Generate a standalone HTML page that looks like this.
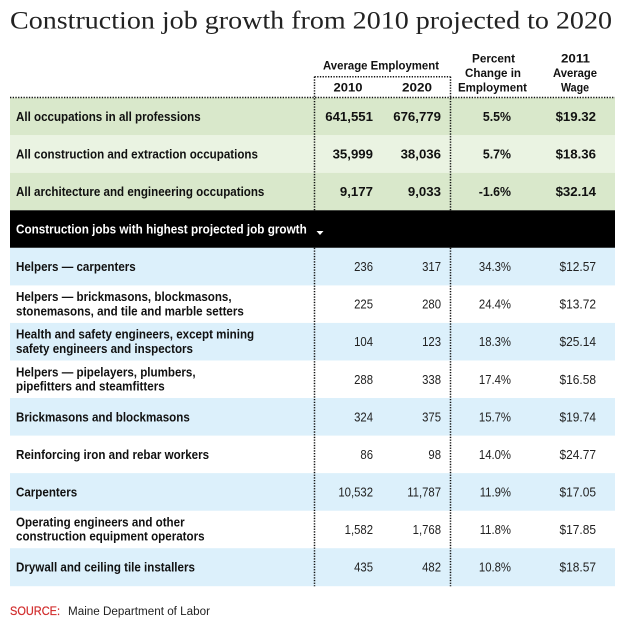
<!DOCTYPE html>
<html>
<head>
<meta charset="utf-8">
<style>
html,body{margin:0;padding:0;background:#fff;}
svg{display:block;}
.lb{font-family:"Liberation Sans",Arial,sans-serif;font-weight:bold;font-size:12.6px;fill:#111;}
.nb{font-family:"Liberation Sans",Arial,sans-serif;font-weight:bold;font-size:12.6px;fill:#111;text-anchor:end;}
.nr{font-family:"Liberation Sans",Arial,sans-serif;font-weight:normal;font-size:12.6px;fill:#222;text-anchor:end;}
.hd{font-family:"Liberation Sans",Arial,sans-serif;font-weight:bold;font-size:11.6px;fill:#111;text-anchor:middle;}
</style>
</head>
<body>
<svg width="624" height="624" viewBox="0 0 624 624" xmlns="http://www.w3.org/2000/svg">
<rect width="624" height="624" fill="#fff"/>
<!-- Title -->
<text x="10" y="28.5" font-family="Liberation Serif, serif" font-size="25" fill="#222" textLength="602" lengthAdjust="spacingAndGlyphs">Construction job growth from 2010 projected to 2020</text>

<!-- Header -->
<text class="hd" x="381" y="69.3" textLength="116" lengthAdjust="spacingAndGlyphs">Average Employment</text>
<text class="hd" x="348" y="91.7" textLength="29" lengthAdjust="spacingAndGlyphs">2010</text>
<text class="hd" x="417" y="91.7" textLength="30" lengthAdjust="spacingAndGlyphs">2020</text>
<text class="hd" x="493.5" y="62.7" textLength="43" lengthAdjust="spacingAndGlyphs">Percent</text>
<text class="hd" x="493" y="77.2" textLength="56" lengthAdjust="spacingAndGlyphs">Change in</text>
<text class="hd" x="492.5" y="91.7" textLength="69" lengthAdjust="spacingAndGlyphs">Employment</text>
<text class="hd" x="575.5" y="62.7" textLength="29" lengthAdjust="spacingAndGlyphs">2011</text>
<text class="hd" x="575" y="77.2" textLength="44" lengthAdjust="spacingAndGlyphs">Average</text>
<text class="hd" x="575" y="91.7" textLength="28" lengthAdjust="spacingAndGlyphs">Wage</text>

<!-- Row backgrounds -->
<rect x="10" y="97.7" width="605" height="37.6" fill="#d9e8cb"/>
<rect x="10" y="135.2" width="605" height="37.6" fill="#eaf3e2"/>
<rect x="10" y="172.8" width="605" height="37.6" fill="#d9e8cb"/>
<rect x="10" y="210.3" width="605" height="37.6" fill="#000"/>
<rect x="10" y="247.8" width="605" height="37.6" fill="#dcf0fb"/>
<rect x="10" y="322.9" width="605" height="37.6" fill="#dcf0fb"/>
<rect x="10" y="398.0" width="605" height="37.6" fill="#dcf0fb"/>
<rect x="10" y="473.1" width="605" height="37.6" fill="#dcf0fb"/>
<rect x="10" y="548.2" width="605" height="38.0" fill="#dcf0fb"/>

<!-- Dotted lines -->
<g stroke="#111" stroke-width="1.5" stroke-dasharray="1.3 1.4" fill="none">
<line x1="10" y1="97.5" x2="615" y2="97.5"/>
<line x1="314.5" y1="76.7" x2="450.5" y2="76.7"/>
<line x1="314.5" y1="76.7" x2="314.5" y2="210.3"/>
<line x1="450.5" y1="76.7" x2="450.5" y2="210.3"/>
<line x1="314.5" y1="247.8" x2="314.5" y2="586.2"/>
<line x1="450.5" y1="247.8" x2="450.5" y2="586.2"/>
</g>

<!-- Green rows -->
<text class="lb" transform="translate(16,121) scale(0.92,1)">All occupations in all professions</text>
<text class="nb" transform="translate(373,121) scale(1.05,1)">641,551</text>
<text class="nb" transform="translate(441,121) scale(1.05,1)">676,779</text>
<text class="nb" transform="translate(511,121) scale(0.98,1)">5.5%</text>
<text class="nb" transform="translate(596,121) scale(1.05,1)">$19.32</text>

<text class="lb" transform="translate(16,158.5) scale(0.92,1)">All construction and extraction occupations</text>
<text class="nb" transform="translate(373,158.5) scale(1.05,1)">35,999</text>
<text class="nb" transform="translate(441,158.5) scale(1.05,1)">38,036</text>
<text class="nb" transform="translate(511,158.5) scale(0.98,1)">5.7%</text>
<text class="nb" transform="translate(596,158.5) scale(1.05,1)">$18.36</text>

<text class="lb" transform="translate(16,196.1) scale(0.92,1)">All architecture and engineering occupations</text>
<text class="nb" transform="translate(373,196.1) scale(1.05,1)">9,177</text>
<text class="nb" transform="translate(441,196.1) scale(1.05,1)">9,033</text>
<text class="nb" transform="translate(511,196.1) scale(0.98,1)">-1.6%</text>
<text class="nb" transform="translate(596,196.1) scale(1.05,1)">$32.14</text>

<!-- Black row -->
<text class="lb" style="fill:#fff" transform="translate(16,233.6) scale(0.93,1)">Construction jobs with highest projected job growth</text>
<polygon points="316.5,231 323.5,231 320,235" fill="#fff"/>

<!-- Job rows -->
<text class="lb" transform="translate(16,271.1) scale(0.92,1)">Helpers — carpenters</text>
<text class="nr" transform="translate(373,271.1) scale(0.9,1)">236</text>
<text class="nr" transform="translate(441,271.1) scale(0.9,1)">317</text>
<text class="nr" transform="translate(511,271.1) scale(0.9,1)">34.3%</text>
<text class="nr" transform="translate(596,271.1) scale(0.95,1)">$12.57</text>

<text class="lb" transform="translate(16,301.2) scale(0.92,1)">Helpers — brickmasons, blockmasons,</text>
<text class="lb" transform="translate(16,315.5) scale(0.92,1)">stonemasons, and tile and marble setters</text>
<text class="nr" transform="translate(373,308.7) scale(0.9,1)">225</text>
<text class="nr" transform="translate(441,308.7) scale(0.9,1)">280</text>
<text class="nr" transform="translate(511,308.7) scale(0.9,1)">24.4%</text>
<text class="nr" transform="translate(596,308.7) scale(0.95,1)">$13.72</text>

<text class="lb" transform="translate(16,338.7) scale(0.92,1)">Health and safety engineers, except mining</text>
<text class="lb" transform="translate(16,353) scale(0.92,1)">safety engineers and inspectors</text>
<text class="nr" transform="translate(373,346.2) scale(0.9,1)">104</text>
<text class="nr" transform="translate(441,346.2) scale(0.9,1)">123</text>
<text class="nr" transform="translate(511,346.2) scale(0.9,1)">18.3%</text>
<text class="nr" transform="translate(596,346.2) scale(0.95,1)">$25.14</text>

<text class="lb" transform="translate(16,376.3) scale(0.92,1)">Helpers — pipelayers, plumbers,</text>
<text class="lb" transform="translate(16,390.6) scale(0.92,1)">pipefitters and steamfitters</text>
<text class="nr" transform="translate(373,383.8) scale(0.9,1)">288</text>
<text class="nr" transform="translate(441,383.8) scale(0.9,1)">338</text>
<text class="nr" transform="translate(511,383.8) scale(0.9,1)">17.4%</text>
<text class="nr" transform="translate(596,383.8) scale(0.95,1)">$16.58</text>

<text class="lb" transform="translate(16,421.3) scale(0.92,1)">Brickmasons and blockmasons</text>
<text class="nr" transform="translate(373,421.3) scale(0.9,1)">324</text>
<text class="nr" transform="translate(441,421.3) scale(0.9,1)">375</text>
<text class="nr" transform="translate(511,421.3) scale(0.9,1)">15.7%</text>
<text class="nr" transform="translate(596,421.3) scale(0.95,1)">$19.74</text>

<text class="lb" transform="translate(16,458.8) scale(0.92,1)">Reinforcing iron and rebar workers</text>
<text class="nr" transform="translate(373,458.8) scale(0.9,1)">86</text>
<text class="nr" transform="translate(441,458.8) scale(0.9,1)">98</text>
<text class="nr" transform="translate(511,458.8) scale(0.9,1)">14.0%</text>
<text class="nr" transform="translate(596,458.8) scale(0.95,1)">$24.77</text>

<text class="lb" transform="translate(16,496.4) scale(0.92,1)">Carpenters</text>
<text class="nr" transform="translate(373,496.4) scale(0.9,1)">10,532</text>
<text class="nr" transform="translate(441,496.4) scale(0.9,1)">11,787</text>
<text class="nr" transform="translate(511,496.4) scale(0.9,1)">11.9%</text>
<text class="nr" transform="translate(596,496.4) scale(0.95,1)">$17.05</text>

<text class="lb" transform="translate(16,526.4) scale(0.92,1)">Operating engineers and other</text>
<text class="lb" transform="translate(16,540.7) scale(0.92,1)">construction equipment operators</text>
<text class="nr" transform="translate(373,533.9) scale(0.9,1)">1,582</text>
<text class="nr" transform="translate(441,533.9) scale(0.9,1)">1,768</text>
<text class="nr" transform="translate(511,533.9) scale(0.9,1)">11.8%</text>
<text class="nr" transform="translate(596,533.9) scale(0.95,1)">$17.85</text>

<text class="lb" transform="translate(16,571.5) scale(0.92,1)">Drywall and ceiling tile installers</text>
<text class="nr" transform="translate(373,571.5) scale(0.9,1)">435</text>
<text class="nr" transform="translate(441,571.5) scale(0.9,1)">482</text>
<text class="nr" transform="translate(511,571.5) scale(0.9,1)">10.8%</text>
<text class="nr" transform="translate(596,571.5) scale(0.95,1)">$18.57</text>

<!-- Source -->
<text x="10" y="615" font-family="Liberation Sans, Arial, sans-serif" font-size="11.5" fill="#d12b2b" stroke="#d12b2b" stroke-width="0.2" textLength="50" lengthAdjust="spacingAndGlyphs">SOURCE:</text>
<text x="68" y="615" font-family="Liberation Sans, Arial, sans-serif" font-size="11.5" fill="#222" textLength="142" lengthAdjust="spacingAndGlyphs">Maine Department of Labor</text>
</svg>
</body>
</html>
